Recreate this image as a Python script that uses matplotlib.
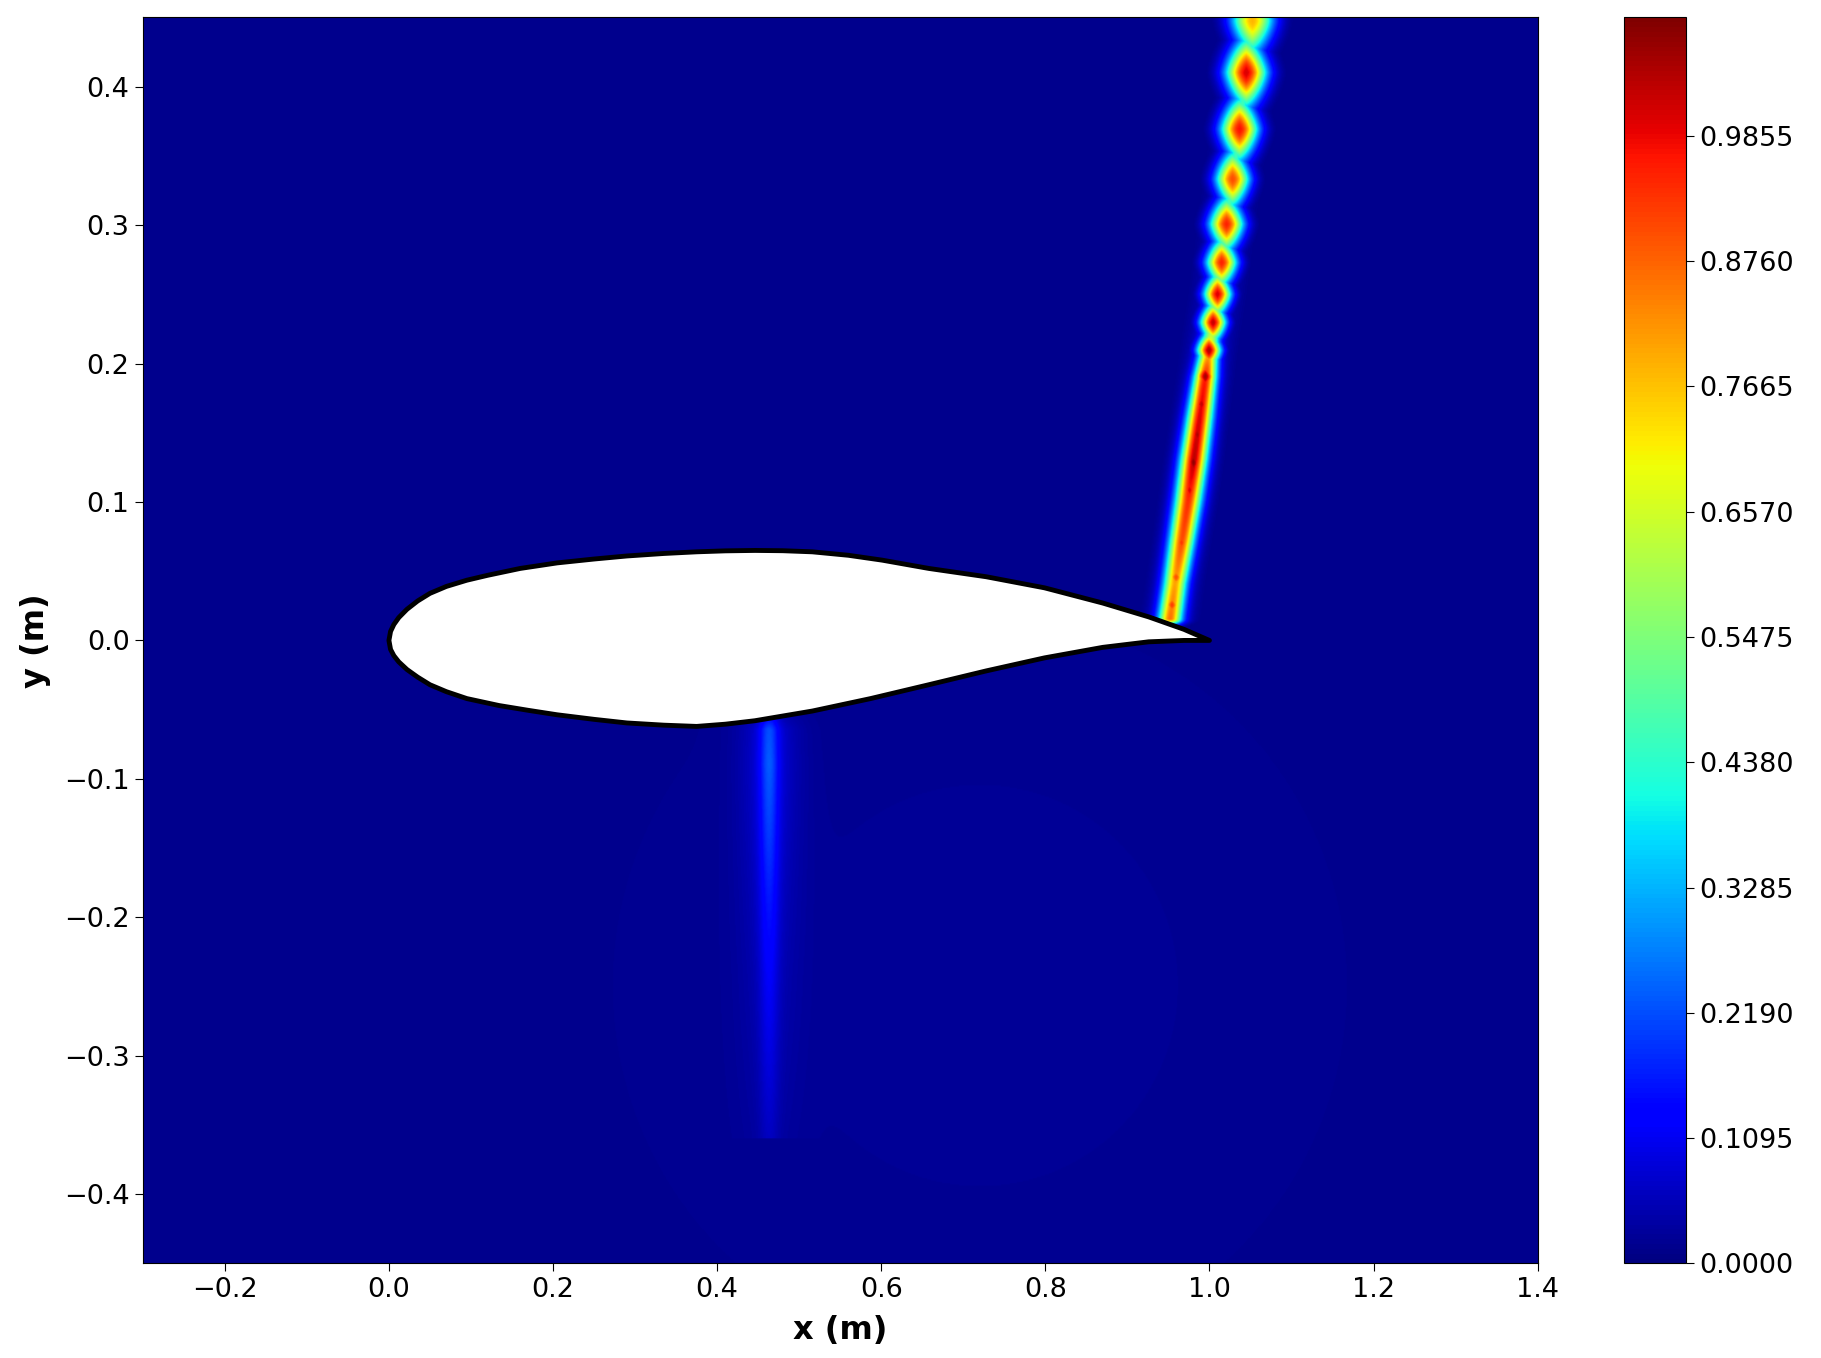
import numpy as np
import matplotlib
matplotlib.use("Agg")
import matplotlib.pyplot as plt

# airfoil outline (m)
upper_x = [0.0, 0.002, 0.006, 0.012, 0.022, 0.035, 0.050, 0.070, 0.095, 0.120, 0.160, 0.205, 0.250, 0.290, 0.335, 0.375, 0.410, 0.446, 0.480, 0.516, 0.560, 0.601, 0.658, 0.728, 0.799, 0.870, 0.926, 0.969, 1.0]
upper_y = [0.0, 0.0065, 0.0115, 0.0165, 0.0225, 0.0285, 0.034, 0.039, 0.0435, 0.047, 0.052, 0.056, 0.0588, 0.061, 0.0628, 0.064, 0.0647, 0.065, 0.0648, 0.064, 0.0615, 0.058, 0.052, 0.046, 0.038, 0.027, 0.017, 0.008, 0.0]
lower_x = [0.0, 0.002, 0.006, 0.012, 0.022, 0.035, 0.050, 0.070, 0.095, 0.134, 0.170, 0.205, 0.250, 0.290, 0.335, 0.375, 0.410, 0.446, 0.516, 0.587, 0.658, 0.728, 0.799, 0.870, 0.926, 0.969, 1.0]
lower_y = [0.0, -0.0065, -0.011, -0.0155, -0.021, -0.0265, -0.032, -0.037, -0.042, -0.047, -0.0505, -0.0537, -0.057, -0.0596, -0.0612, -0.0621, -0.0605, -0.058, -0.051, -0.042, -0.032, -0.022, -0.0126, -0.005, -0.001, 0.0, 0.0]

# shock line: centreline and strength along it
shock_y = [0.015, 0.04, 0.07, 0.10, 0.13, 0.16, 0.19, 0.22, 0.25, 0.31, 0.37, 0.41, 0.45]
shock_x = [0.952, 0.958, 0.966, 0.974, 0.981, 0.988, 0.995, 1.002, 1.010, 1.023, 1.037, 1.045, 1.053]
shock_amp = [0.78, 0.72, 0.82, 0.86, 0.95, 0.92, 0.88, 0.55, 0.42, 0.40, 0.38, 0.38, 0.40]
shock_sig = [0.0100, 0.0100, 0.0105, 0.0110, 0.0110, 0.0105, 0.0095, 0.0075, 0.0065, 0.0060, 0.0060, 0.0060, 0.0060]

# cells along the shock: height, strength, half width (x) and half height (y) of the cyan rim
cell_y = [0.447, 0.4096, 0.3687, 0.3326, 0.3001, 0.2724, 0.2495, 0.2291, 0.209, 0.190, 0.170, 0.148, 0.128, 0.108, 0.070, 0.045, 0.025]
cell_amp = [0.78, 1.00, 0.97, 0.90, 0.95, 0.95, 1.00, 1.02, 1.04, 1.05, 1.02, 1.04, 1.07, 1.00, 0.93, 0.90, 0.92]
cell_w = [0.025, 0.024, 0.022, 0.020, 0.020, 0.018, 0.016, 0.015, 0.014, 0.013, 0.012, 0.012, 0.012, 0.011, 0.011, 0.011, 0.011]
cell_h = [0.024, 0.024, 0.022, 0.020, 0.019, 0.017, 0.015, 0.014, 0.013, 0.013, 0.014, 0.016, 0.016, 0.014, 0.012, 0.010, 0.010]

# faint streak below the airfoil
wake_x = 0.463
wake_y = [-0.055, -0.065, -0.09, -0.13, -0.18, -0.24, -0.30, -0.36]
wake_amp = [0.07, 0.14, 0.15, 0.13, 0.10, 0.07, 0.05, 0.03]

background = 0.015
vmax = 1.089
cbar_ticks = [0.0, 0.1095, 0.2190, 0.3285, 0.4380, 0.5475, 0.6570, 0.7665, 0.8760, 0.9855]

x = np.linspace(-0.3, 1.4, 1400)
y = np.linspace(-0.45, 0.45, 1000)
X, Y = np.meshgrid(x, y)

field = np.full(X.shape, background)

# shock line
xc = np.interp(Y, shock_y, shock_x)
amp = np.interp(Y, shock_y, shock_amp)
sig = np.interp(Y, shock_y, shock_sig)
line = amp * np.exp(-0.5 * ((X - xc) / sig) ** 2)
line += 0.08 * np.exp(-0.5 * ((X - xc) / 0.02) ** 2)
below = Y < shock_y[0]
line[below] *= np.exp(-((shock_y[0] - Y[below]) / 0.004) ** 2)
field = np.maximum(field, line)

# cells, rounded diamonds
p = 1.4
for cy, ca, cw, ch in zip(cell_y, cell_amp, cell_w, cell_h):
    cx = np.interp(cy, shock_y, shock_x)
    r = ((np.abs(X - cx) / cw) ** p + (np.abs(Y - cy) / ch) ** p) ** (1 / p)
    field = np.maximum(field, ca * np.exp(-r ** 2))

# wake streak
wa = np.interp(Y, wake_y[::-1], wake_amp[::-1], left=0.0, right=0.0)
field += wa * np.exp(-0.5 * ((X - wake_x) / 0.008) ** 2)
field += 0.45 * wa * np.exp(-0.5 * ((X - wake_x) / 0.025) ** 2)

# faint haze below the airfoil
field += 0.01 * np.exp(-0.5 * ((X - 0.72) / 0.25) ** 2) * np.exp(-0.5 * ((Y + 0.25) / 0.15) ** 2)

field = np.clip(field, 0, vmax)

fig = plt.figure(figsize=(18.21, 13.58), dpi=100)
ax = fig.add_axes([0.0784, 0.0696, 0.766, 0.9176])
cax = fig.add_axes([0.8916, 0.0696, 0.0345, 0.9176])

im = ax.imshow(field, extent=[-0.3, 1.4, -0.45, 0.45], origin="lower",
               aspect="auto", cmap="jet", vmin=0, vmax=vmax,
               interpolation="bilinear")

foil_x = upper_x + lower_x[::-1]
foil_y = upper_y + lower_y[::-1]
ax.fill(foil_x, foil_y, facecolor="white", edgecolor="black", linewidth=3.5,
        joinstyle="round", zorder=3)

ax.set_xlim(-0.3, 1.4)
ax.set_ylim(-0.45, 0.45)
ax.set_xticks([-0.2, 0.0, 0.2, 0.4, 0.6, 0.8, 1.0, 1.2, 1.4])
ax.set_yticks([-0.4, -0.3, -0.2, -0.1, 0.0, 0.1, 0.2, 0.3, 0.4])
ax.tick_params(labelsize=19.5, length=6)
ax.set_xlabel("x (m)", fontsize=23, fontweight="bold", labelpad=9)
ax.set_ylabel("y (m)", fontsize=23, fontweight="bold", labelpad=9)

cb = fig.colorbar(im, cax=cax, ticks=cbar_ticks, format="%.4f")
cb.ax.tick_params(labelsize=19.5, length=6)

fig.savefig("out.png", dpi=100)
